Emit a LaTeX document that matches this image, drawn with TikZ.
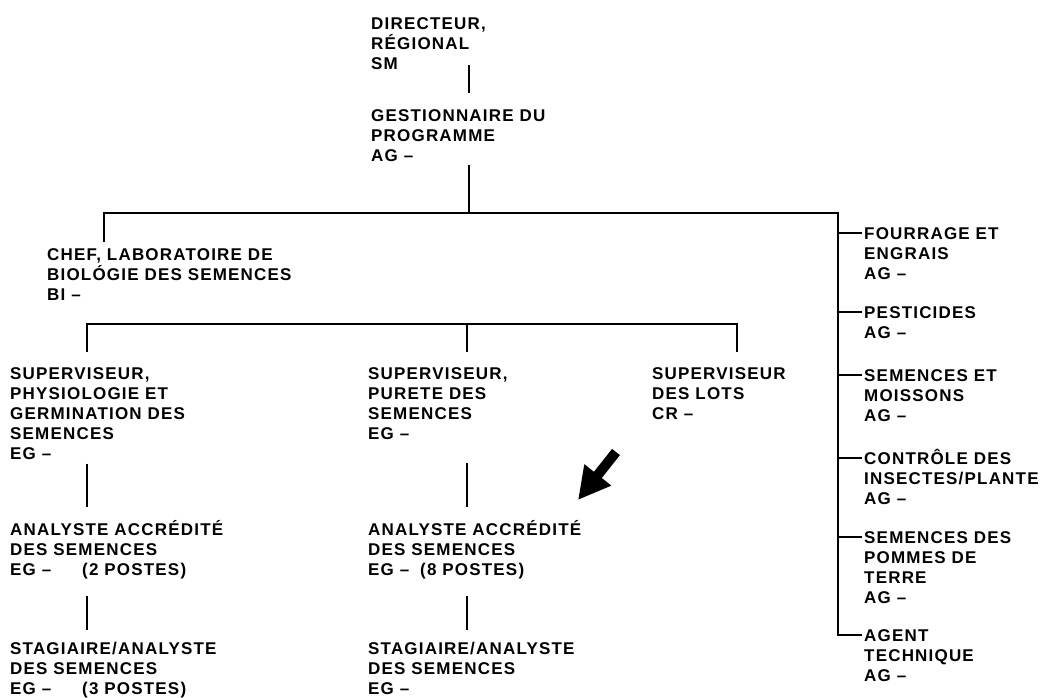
\documentclass[tikz,border=0pt]{standalone}
\usepackage{fontspec}
\newfontfamily\chartfont{Liberation Sans}[LetterSpace=7]
\usepackage{tikz}
\usetikzlibrary{arrows.meta,calc}

% first-line strut, so that accented capitals do not move the node
\newcommand\hd{\rule{0pt}{16pt}}

\tikzset{
  post/.style={anchor=north west, inner sep=0pt, align=left,
    font=\chartfont\bfseries\fontsize{17}{20}\selectfont},
  link/.style={line width=1.6pt},
}

\begin{document}
\begin{tikzpicture}[x=1pt,y=-1pt]
\useasboundingbox (0,0) rectangle (1044,698);

% direction
\node[post] (dir)  at (371,13.1)  {\hd DIRECTEUR,\\RÉGIONAL\\SM};
\node[post] (gest) at (371,105.1) {\hd GESTIONNAIRE DU\\PROGRAMME\\AG –};
\node[post] (chef) at (47,244)    {\hd CHEF, LABORATOIRE DE\\BIOLÓGIE DES SEMENCES\\BI –};

% laboratoire
\node[post] (sup1) at (10,363)  {\hd SUPERVISEUR,\\PHYSIOLOGIE ET\\GERMINATION DES\\SEMENCES\\EG –};
\node[post] (sup2) at (368,363) {\hd SUPERVISEUR,\\PURETE DES\\SEMENCES\\EG –};
\node[post] (sup3) at (652,363) {\hd SUPERVISEUR\\DES LOTS\\CR –};
\node[post] (ana1) at (10,519)  {\hd ANALYSTE ACCRÉDITÉ\\DES SEMENCES\\\makebox[72pt][l]{EG –}(2 POSTES)};
\node[post] (ana2) at (368,519) {\hd ANALYSTE ACCRÉDITÉ\\DES SEMENCES\\\makebox[52pt][l]{EG –}(8 POSTES)};
\node[post] (stag1) at (10,638)  {\hd STAGIAIRE/ANALYSTE\\DES SEMENCES\\\makebox[72pt][l]{EG –}(3 POSTES)};
\node[post] (stag2) at (368,638) {\hd STAGIAIRE/ANALYSTE\\DES SEMENCES\\EG –};

% colonne de droite
\node[post] (four)  at (864,223) {\hd FOURRAGE ET\\ENGRAIS\\AG –};
\node[post] (pest)  at (864,302) {\hd PESTICIDES\\AG –};
\node[post] (sem)   at (864,365) {\hd SEMENCES ET\\MOISSONS\\AG –};
\node[post] (ctrl)  at (864,448) {\hd CONTRÔLE DES\\INSECTES/PLANTE\\AG –};
\node[post] (pomm)  at (864,527) {\hd SEMENCES DES\\POMMES DE\\TERRE\\AG –};
\node[post] (agent) at (864,625) {\hd AGENT\\TECHNIQUE\\AG –};

\coordinate (bus)  at (469,213);
\coordinate (side) at (838,213);
\coordinate (lab)  at (104,213);
\coordinate (sub)  at (467,324);

% liens
\draw[link] ($(dir.north west)+(98,52)$) -- ($(gest.north west)+(98,-12)$);
\draw[link] ($(gest.south west)+(98,3)$) -- (bus);
\draw[link] ($(chef.north west)+(57,-2)$) -- (lab) -- (side)
  -- ($(agent.north west)+(-26,9.9)$) -- ($(agent.north west)+(-2,9.9)$);
\foreach \n in {four,pest,sem,ctrl,pomm}
  \draw[link] ($(\n.north west)+(-26,9.9)$) -- ($(\n.north west)+(-2,9.9)$);

\draw[link] ($(sup1.north west)+(77,-11)$) |- (sub) -| ($(sup3.north west)+(85,-11)$);
\draw[link] (sub) -- ($(sup2.north west)+(99,-11)$);
\draw[link] ($(sup1.south west)+(77,4)$) -- ($(ana1.north west)+(77,-12)$);
\draw[link] ($(sup2.north west)+(99,100)$) -- ($(ana2.north west)+(99,-12)$);
\draw[link] ($(ana1.south west)+(77,17)$) -- ($(stag1.north west)+(77,-8)$);
\draw[link] ($(ana2.south west)+(99,17)$) -- ($(stag2.north west)+(99,-8)$);

% fleche
\draw[line width=10pt,-{Triangle[length=32pt,width=32pt]}]
  ($(ana2.north west)+(248,-67)$) -- ($(ana2.north west)+(210,-19)$);
\end{tikzpicture}
\end{document}
